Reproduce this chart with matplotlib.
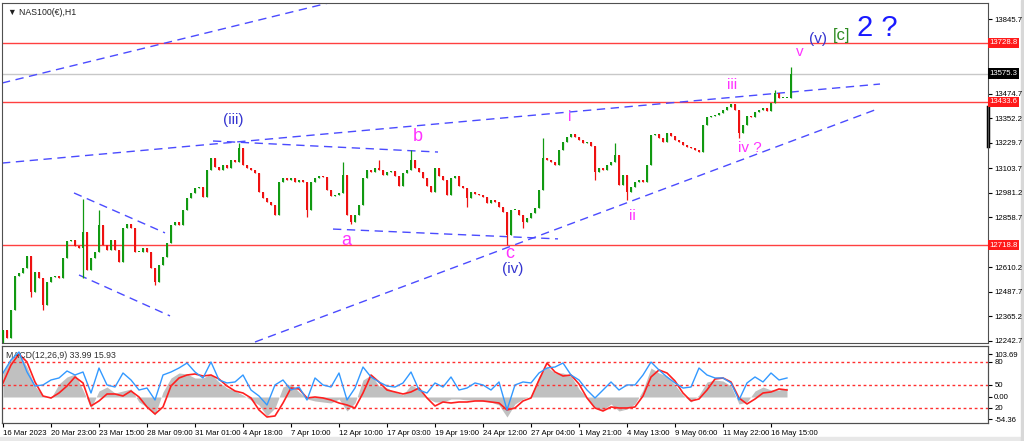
import numpy as np
import matplotlib
matplotlib.use('Agg')
import matplotlib.pyplot as plt
from matplotlib.patches import Rectangle
import matplotlib.transforms as mtransforms

plt.rcParams['font.family'] = ['Liberation Sans Narrow', 'Liberation Sans', 'DejaVu Sans']

# hourly closes (one every ~4 px)
closes = [
    12297, 12257, 12397, 12566, 12581, 12606, 12666, 12486, 12586, 12556,
    12422, 12536, 12561, 12566, 12556, 12656, 12741, 12746, 12716, 12706,
    12785, 12596, 12656, 12686, 12820, 12721, 12696, 12746, 12696, 12636,
    12805, 12825, 12805, 12686, 12686, 12706, 12686, 12606, 12536, 12621,
    12661, 12731, 12820, 12835, 12820, 12895, 12955, 12980, 13005, 13010,
    12960, 13095, 13154, 13109, 13095, 13119, 13105, 13144, 13134, 13204,
    13119, 13105, 13095, 13080, 12985, 12955, 12935, 12920, 12870, 13035,
    13055, 13045, 13055, 13035, 13045, 13035, 12895, 13035, 13055, 13065,
    13060, 12995, 12965, 12970, 12980, 13070, 12870, 12835, 12870, 12920,
    13055, 13095, 13085, 13105, 13095, 13070, 13085, 13090, 13065, 13015,
    13080, 13095, 13144, 13105, 13085, 13055, 13015, 12985, 13105, 13065,
    13045, 12970, 13055, 13065, 13015, 13005, 12955, 12985, 12975, 12970,
    12960, 12930, 12945, 12935, 12910, 12885, 12770, 12895, 12895, 12870,
    12835, 12855, 12880, 12905, 12995, 13154, 13144, 13134, 13119, 13194,
    13234, 13259, 13274, 13259, 13244, 13229, 13234, 13214, 13085, 13105,
    13095, 13119, 13134, 13169, 13020, 13070, 12985, 13010, 13035, 13045,
    13035, 13119, 13269, 13274, 13254, 13234, 13279, 13264, 13244, 13234,
    13219, 13209, 13204, 13194, 13184, 13319, 13359, 13364, 13369, 13379,
    13394, 13409, 13424, 13394, 13279, 13319, 13364, 13359, 13384, 13394,
    13404, 13389, 13429, 13478, 13453, 13453, 13453, 13575.3,
]
first_open = 12246
wick_highs = {20: 12950, 24: 12895, 59: 13229, 85: 13134, 94: 13144, 102: 13194,
              135: 13254, 153: 13229, 193: 13493, 197: 13608}
wick_lows = {0: 12222, 7: 12461, 10: 12397, 20: 12556, 38: 12521, 76: 12860,
             87: 12825, 116: 12910, 126: 12721, 130: 12805, 148: 13045,
             156: 12945, 184: 13254}

# MACD panel (one value every 2 candles)
macd_main = [
    58.4, 94.9, 107, 73, 26.8, 2.4, -2.4, 31.6, 48.7, 56,
    17, -26.8, 14.6, 24.3, 9.7, 14.6, 19.5, -12.2, -24.3, -43.8,
    12.2, 46.2, 58.4, 56, 46.2, 46.2, 56, 36.5, 21.9, 14.6,
    4.9, -7.3, -19.5, -46.2, -26.8, 24.3, 31.6, 12.2, -4.9, -9.7,
    -12.2, -14.6, -4.9, -34.1, -14.6, 41.4, 53.5, 26.8, 21.9, 12.2,
    4.9, 29.2, 19.5, -2.4, -12.2, -12.2, -4.9, -4.9, -7.3, -7.3,
    -9.7, -12.2, -19.5, -48.7, -17, -4.9, 2.4, 51.1, 73, 58.4,
    58.4, 51.1, 19.5, -2.4, -26.8, -31.6, -17, -34.1, -29.2, -17,
    17, 70.6, 58.4, 51.1, 29.2, 4.9, -12.2, 4.9, 36.5, 41.4,
    38.9, 26.8, -17, -12.2, 14.6, 24.3, 17, 17, 21.9,
]
macd_signal = [
    34.1, 77.9, 104.6, 85.2, 36.5, 2.4, -2.4, 9.7, 26.8, 48.7,
    34.1, -21.9, -9.7, 7.3, 7.3, 2.4, 14.6, 0, -24.3, -41.4,
    -24.3, 26.8, 46.2, 53.5, 56, 51.1, 53.5, 43.8, 26.8, 14.6,
    9.7, -2.4, -31.6, -48.7, -46.2, -14.6, 21.9, 19.5, -2.4, 0,
    -2.4, -7.3, -14.6, -19.5, -26.8, 9.7, 53.5, 36.5, 17, 12.2,
    7.3, 12.2, 21.9, -2.4, -21.9, -12.2, -14.6, -12.2, -12.2, -9.7,
    -9.7, -12.2, -14.6, -31.6, -26.8, -9.7, -2.4, 41.4, 82.7, 60.8,
    51.1, 53.5, 31.6, -2.4, -26.8, -34.1, -24.3, -26.8, -26.8, -24.3,
    2.4, 48.7, 65.7, 58.4, 38.9, 9.7, -9.7, -4.9, 17, 43.8,
    46.2, 36.5, -2.4, -17, -4.9, 9.7, 12.2, 19.5, 17,
]
oscillator = [
    65.2, 82.2, 92.6, 66.5, 48.2, 49.6, 56.1, 58.7, 67.8, 62.6,
    66.5, 39.1, 71.7, 49.6, 46.9, 65.2, 56.1, 43, 45.6, 30,
    62.6, 66.5, 71.7, 78.2, 66.5, 58.7, 79.5, 56.1, 52.2, 53.5,
    62.6, 43, 35.2, 23.5, 49.6, 56.1, 43, 46.9, 30, 58.7,
    49.6, 46.9, 65.2, 30, 45.6, 73, 60, 53.5, 48.2, 46.9,
    52.2, 66.5, 43, 39.1, 52.2, 46.9, 60, 43, 45.6, 52.2,
    49.6, 43, 53.5, 17, 49.6, 53.5, 52.2, 65.2, 71.7, 73,
    78.2, 62.6, 56.1, 43, 32.6, 43, 53.5, 43, 49.6, 49.6,
    62.6, 79.5, 69.1, 60, 52.2, 45.6, 46.9, 71.7, 62.6, 58.7,
    58.7, 52.2, 30, 52.2, 60, 53.5, 65.2, 56.1, 58.7,
]
osc_levels = [80, 50, 20]

time_labels = ['16 Mar 2023', '20 Mar 23:00', '23 Mar 15:00', '28 Mar 09:00',
               '31 Mar 01:00', '4 Apr 18:00', '7 Apr 10:00', '12 Apr 10:00',
               '17 Apr 03:00', '19 Apr 19:00', '24 Apr 12:00', '27 Apr 04:00',
               '1 May 21:00', '4 May 13:00', '9 May 06:00', '11 May 22:00',
               '16 May 15:00']

price_ticks = [13845.7, 13474.7, 13352.2, 13229.7, 13103.7, 12981.2,
               12858.7, 12610.2, 12487.7, 12365.2, 12242.7]
red_levels = [13728.8, 13433.6, 12718.8]
last_price = 13575.3

# hand drawn trend lines (bar index, price)
trend_lines = [
    ((-0.25, 13528), (81.75, 13929)),
    ((-0.25, 13129), (219.25, 13523)),
    ((63, 12237), (218, 13394)),
    ((52.5, 13239), (108.75, 13184)),
    ((82.5, 12800), (138.75, 12751)),
    ((17.75, 12980), (40.5, 12781)),
    ((19, 12571), (41.75, 12367)),
]

# wave labels: text, bar index, price, colour, size
wave_labels = [
    ('(iii)', 57.5, 13344, '#3535d0', 11),
    ('b', 103.75, 13259, '#ff33ff', 13),
    ('a', 85.75, 12741, '#ff33ff', 13),
    ('c', 126.75, 12676, '#ff33ff', 13),
    ('(iv)', 127.5, 12601, '#3535d0', 11),
    ('i', 141.75, 13359, '#ff33ff', 11),
    ('ii', 157.25, 12865, '#ff33ff', 11),
    ('iii', 182.25, 13518, '#ff33ff', 11),
    ('iv ?', 186.75, 13204, '#ff33ff', 11),
    ('v', 199.25, 13683, '#ff33ff', 11),
    ('(v)', 203.75, 13748, '#3535d0', 11),
    ('[c]', 209.75, 13767, '#2e8b22', 12),
    ('2 ?', 218.5, 13802, '#1a1aff', 21),
]

fs_axis = 5.6

fig = plt.figure(figsize=(10.24, 4.41), dpi=100)
fig.patch.set_facecolor('white')
fig.add_artist(Rectangle((0, 0), 1, 4/441, transform=fig.transFigure,
                         color='#e8e8e8', zorder=-5))
fig.add_artist(Rectangle((1021/1024, 0), 3/1024, 1, transform=fig.transFigure,
                         color='#d8d8d8', zorder=-5))

ax = fig.add_axes([2/1024, 98/441, 986/1024, 340/441])
axm = fig.add_axes([2/1024, 18/441, 986/1024, 77/441])

n = len(closes)
x = np.arange(n)
c = np.array(closes, dtype=float)
o = np.concatenate([[first_open], c[:-1]])
hi = np.maximum(o, c)
lo = np.minimum(o, c)
for k, v in wick_highs.items():
    hi[k] = max(hi[k], v)
for k, v in wick_lows.items():
    lo[k] = min(lo[k], v)
up = c >= o
cols = np.where(up, '#119911', '#ee1111')

for lvl in red_levels:
    ax.axhline(lvl, color='#ff4040', lw=1, zorder=1)
ax.axhline(last_price, color='#c8c8c8', lw=1, zorder=1)

ax.vlines(x, lo, hi, colors=cols, lw=0.9, zorder=3)
body = np.maximum(np.abs(c - o), 3)
ax.bar(x, body, bottom=np.minimum(o, c), width=0.7, color=cols,
       edgecolor='none', zorder=3)

for (x0, y0), (x1, y1) in trend_lines:
    ax.plot([x0, x1], [y0, y1], color='#4b4bff', lw=1, dashes=(6, 4), zorder=2)

for txt, xi, yp, col, fs in wave_labels:
    ax.text(xi, yp, txt, color=col, fontsize=fs, ha='center', va='center',
            family=['Liberation Sans', 'DejaVu Sans'], zorder=5)

ax.set_xlim(-0.25, 246.25)
ax.set_ylim(12232, 13927)
ax.set_xticks([])
ax.yaxis.tick_right()
ax.set_yticks(price_ticks)
ax.set_yticklabels([f'{p:.1f}' for p in price_ticks])
ax.tick_params(axis='y', labelsize=fs_axis, length=3, pad=1.5, width=0.8)
for s in ax.spines.values():
    s.set_color('#505050')
    s.set_linewidth(0.8)

trans = mtransforms.blended_transform_factory(ax.transAxes, ax.transData)
for lvl in red_levels:
    ax.text(1.0015, lvl, f'{lvl:.1f}', transform=trans, color='white',
            fontsize=fs_axis, ha='left', va='center', clip_on=False, zorder=6,
            bbox=dict(facecolor='#ff1a1a', edgecolor='none', pad=1.2))
ax.text(1.0015, last_price, f'{last_price:.1f}', transform=trans, color='white',
        fontsize=fs_axis, ha='left', va='center', clip_on=False, zorder=6,
        bbox=dict(facecolor='black', edgecolor='none', pad=1.2))
ax.plot([1.0, 1.0], [13409, 13214], transform=trans, color='black', lw=2.5,
        clip_on=False)

ax.text(0.006, 0.985, '\u25bc NAS100(\u20ac),H1', transform=ax.transAxes,
        fontsize=6.3, ha='left', va='top', color='#202020',
        family=['Liberation Sans', 'DejaVu Sans'])

# MACD panel
xi = 2 * np.arange(len(macd_main))
axm.fill_between(xi, 0, macd_main, color='#c0c0c0', lw=0, zorder=1)
axm.plot(xi, macd_signal, color='#ff2020', lw=1.2, zorder=3)
axm.set_xlim(-0.25, 246.25)
axm.set_ylim(-63.3, 124.1)

axo = axm.twinx()
axo.set_ylim(0, 100.4)
for lvl in osc_levels:
    axo.axhline(lvl, color='#ff3030', lw=1, dashes=(2, 2), zorder=1)
xo = 2 * np.arange(len(oscillator))
axo.plot(xo, oscillator, color='#3399ff', lw=1, zorder=2)
axo.set_yticks(osc_levels)
axo.set_yticklabels([str(v) for v in osc_levels])
axo.tick_params(axis='y', labelsize=fs_axis, length=3, pad=1.5)

axm.yaxis.tick_right()
axm.set_yticks([103.69, 0, -54.36])
axm.set_yticklabels(['103.69', '0.00', '-54.36'])
axm.tick_params(axis='y', labelsize=fs_axis, length=3, pad=1.5)

axm.set_xticks(12 * np.arange(len(time_labels)))
axm.set_xticklabels(time_labels)
axm.tick_params(axis='x', labelsize=fs_axis, length=3, pad=2)
for lbl in axm.get_xticklabels():
    lbl.set_ha('left')
for a in (axm, axo):
    for s in a.spines.values():
        s.set_color('#505050')
        s.set_linewidth(0.8)
axm.text(0.004, 0.93, 'MACD(12,26,9) 33.99 15.93', transform=axm.transAxes,
         fontsize=6.3, ha='left', va='top', color='#303030',
         family=['Liberation Sans', 'DejaVu Sans'])

fig.savefig('out.png', dpi=100)
